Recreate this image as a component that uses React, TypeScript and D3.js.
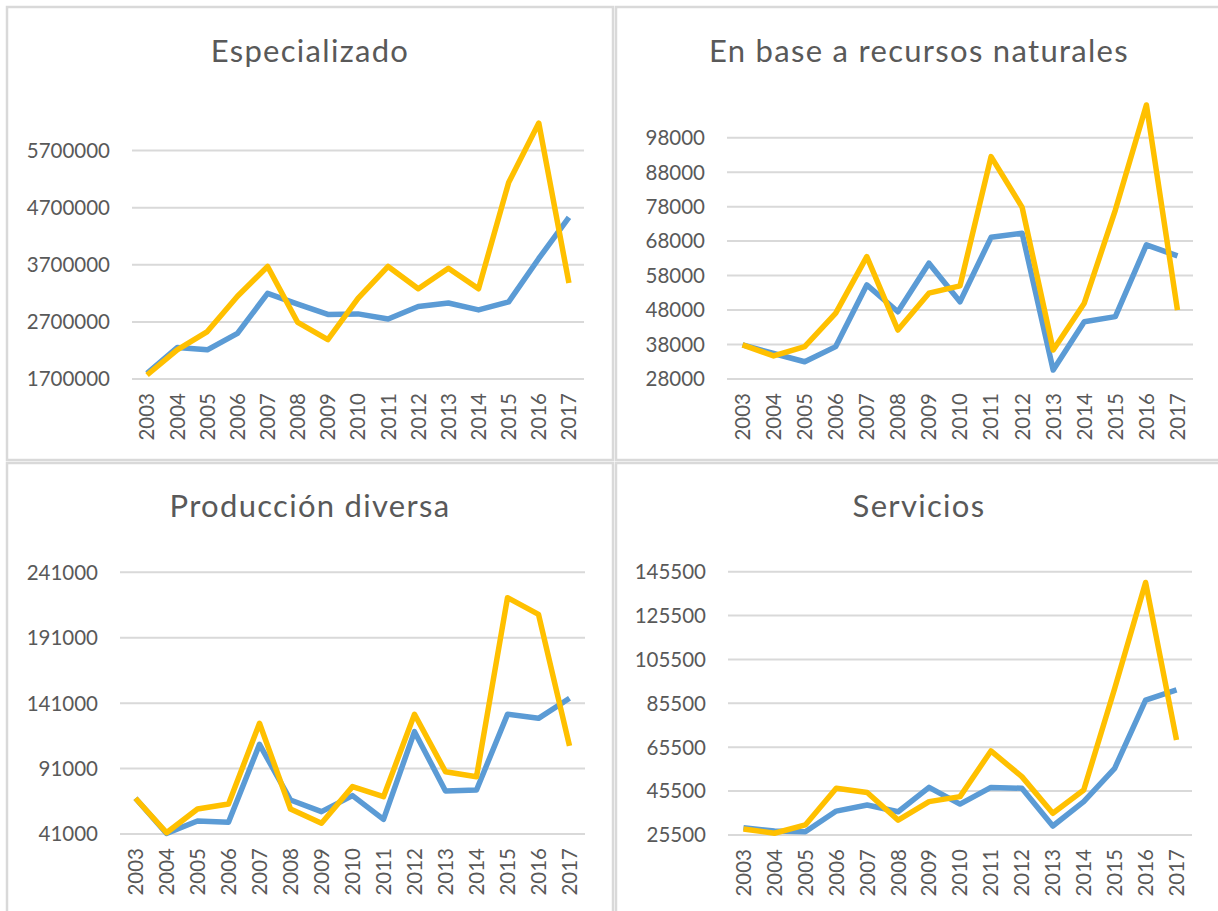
import { useMemo } from 'react';
import * as d3 from 'd3';

// Years shown on every x axis
const years = ['2003', '2004', '2005', '2006', '2007', '2008', '2009', '2010', '2011', '2012', '2013', '2014', '2015', '2016', '2017'];

// Especializado
const especializadoAzul = [1800000, 2250000, 2210000, 2500000, 3200000, 3010000, 2830000, 2840000, 2750000, 2970000, 3030000, 2910000, 3050000, 3810000, 4530000];
const especializadoAmarillo = [1770000, 2210000, 2530000, 3150000, 3670000, 2690000, 2390000, 3110000, 3670000, 3280000, 3640000, 3280000, 5140000, 6180000, 3380000];
const especializadoTicks = [1700000, 2700000, 3700000, 4700000, 5700000];

// En base a recursos naturales
const recursosAzul = [37900, 35400, 33000, 37400, 55300, 47500, 61600, 50400, 69100, 70300, 30600, 44600, 46100, 66900, 63700];
const recursosAmarillo = [37900, 34700, 37400, 47100, 63500, 42200, 52900, 55000, 92500, 77800, 36400, 50000, 77000, 107500, 48000];
const recursosTicks = [28000, 38000, 48000, 58000, 68000, 78000, 88000, 98000];

// Producción diversa
const diversaAzul = [68300, 41500, 50900, 49900, 109500, 67000, 58100, 70300, 52200, 119200, 73900, 74600, 132500, 129400, 144700];
const diversaAmarillo = [68300, 42000, 60100, 63900, 125600, 60100, 49200, 77200, 69500, 132500, 88600, 84800, 221600, 208900, 108300];
const diversaTicks = [41000, 91000, 141000, 191000, 241000];

// Servicios
const serviciosAzul = [28800, 27300, 27000, 36400, 39200, 36100, 47200, 39600, 47200, 46800, 29600, 40700, 55900, 87000, 91600];
const serviciosAmarillo = [28200, 26300, 30100, 46800, 44900, 32300, 40700, 43000, 63800, 52100, 35400, 46000, 92300, 140600, 68800];
const serviciosTicks = [25500, 45500, 65500, 85500, 105500, 125500, 145500];

const AZUL = '#5B9BD5';
const AMARILLO = '#FFC000';
const GRIS_TEXTO = '#595959';
const GRIS_LINEA = '#d9d9d9';
const FONT = 'Lato, "Open Sans", sans-serif';

// Layout of each small chart: frame, plot area, title position
const panels = [
  { title: 'Especializado', azul: especializadoAzul, amarillo: especializadoAmarillo, ticks: especializadoTicks,
    frame: [7, 7, 606, 453], left: 132, right: 584, top: 150.5, bottom: 379, titleX: 310, titleY: 62 },
  { title: 'En base a recursos naturales', azul: recursosAzul, amarillo: recursosAmarillo, ticks: recursosTicks,
    frame: [616, 7, 620, 453], left: 727, right: 1193, top: 137.7, bottom: 379, titleX: 919, titleY: 62 },
  { title: 'Producción diversa', azul: diversaAzul, amarillo: diversaAmarillo, ticks: diversaTicks,
    frame: [7, 463, 606, 470], left: 120, right: 585, top: 572.3, bottom: 834, titleX: 310, titleY: 517 },
  { title: 'Servicios', azul: serviciosAzul, amarillo: serviciosAmarillo, ticks: serviciosTicks,
    frame: [616, 463, 620, 470], left: 728, right: 1192, top: 571.7, bottom: 835, titleX: 919, titleY: 517 },
];

const Panel = ({ p }) => {
  const x = useMemo(() => d3.scaleBand().domain(years).range([p.left, p.right]), [p]);
  const y = useMemo(() => d3.scaleLinear()
    .domain([p.ticks[0], p.ticks[p.ticks.length - 1]])
    .range([p.bottom, p.top]), [p]);

  const line = d3.line<number>()
    .x((_, i) => x(years[i]) + x.bandwidth() / 2)
    .y(d => y(d));

  return (
    <g>
      <rect x={p.frame[0]} y={p.frame[1]} width={p.frame[2]} height={p.frame[3]}
        fill="#fff" stroke={GRIS_LINEA} strokeWidth={2.5} />
      <text x={p.titleX} y={p.titleY} textAnchor="middle" fontSize={31} letterSpacing={1.3}
        fill={GRIS_TEXTO} fontFamily={FONT}>{p.title}</text>

      {/* gridlines + y labels */}
      {p.ticks.map(t => (
        <g key={t}>
          <line x1={p.left} x2={p.right} y1={y(t)} y2={y(t)} stroke={GRIS_LINEA} strokeWidth={2} />
          <text x={p.left - 22} y={y(t)} dy="0.36em" textAnchor="end" fontSize={20.5}
            fill={GRIS_TEXTO} fontFamily={FONT}>{t}</text>
        </g>
      ))}

      {/* rotated year labels */}
      {years.map(yr => {
        const cx = x(yr) + x.bandwidth() / 2;
        const cy = p.bottom + 14;
        return (
          <text key={yr} transform={`translate(${cx},${cy}) rotate(-90)`} dy="0.36em"
            textAnchor="end" fontSize={20.5} fill={GRIS_TEXTO} fontFamily={FONT}>{yr}</text>
        );
      })}

      <path d={line(p.azul)} fill="none" stroke={AZUL} strokeWidth={5.5} strokeLinejoin="round" />
      <path d={line(p.amarillo)} fill="none" stroke={AMARILLO} strokeWidth={5.5} strokeLinejoin="round" />
    </g>
  );
};

export default function App() {
  return (
    <svg width={1218} height={911} style={{ position: 'absolute', left: 0, top: 0, background: '#fff' }}>
      <rect width={1218} height={911} fill="#fff" />
      {panels.map(p => <Panel key={p.title} p={p} />)}
    </svg>
  );
}
